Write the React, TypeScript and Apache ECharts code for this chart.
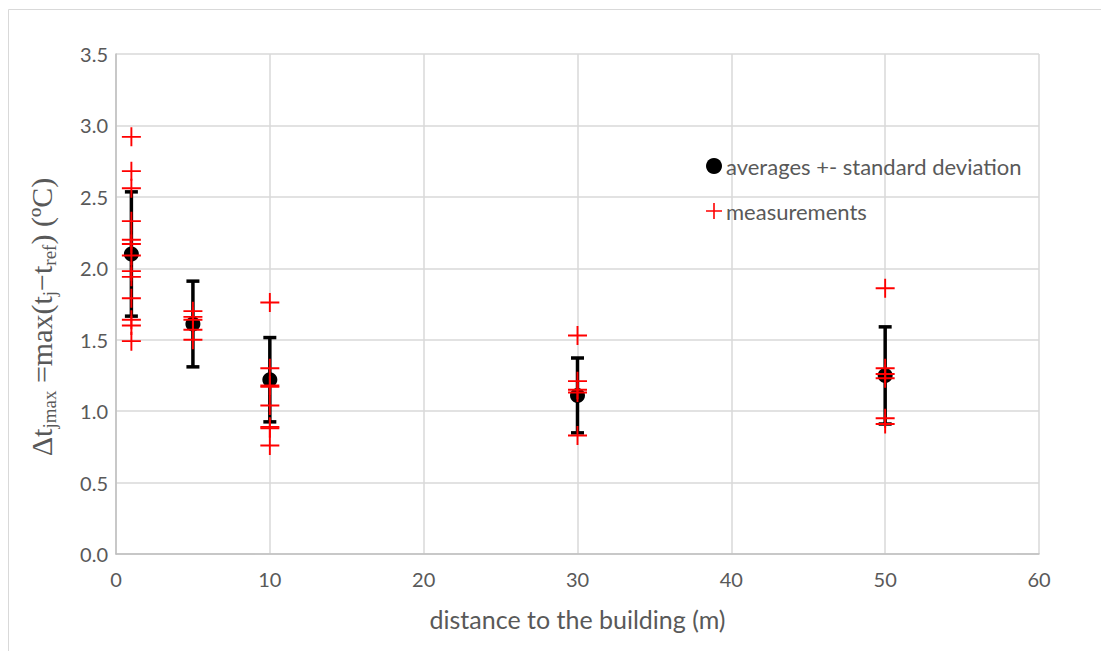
import React, { useEffect, useRef } from "react";
import * as echarts from "echarts";

// ---- data ----
const distances = [1, 5, 10, 30, 50];
const averages = [2.1, 1.61, 1.22, 1.11, 1.25];
const stdDevs = [0.435, 0.3, 0.295, 0.262, 0.34];

const meas1 = [2.92, 2.68, 2.56, 2.33, 2.2, 2.17, 2.09, 1.98, 1.94, 1.79, 1.64, 1.6, 1.49];
const meas5 = [1.7, 1.66, 1.64, 1.57, 1.5];
const meas10 = [1.76, 1.3, 1.18, 1.17, 1.04, 0.89, 0.88, 0.76];
const meas30 = [1.53, 1.21, 1.15, 1.13, 0.83];
const meas50 = [1.86, 1.3, 1.26, 1.23, 0.95, 0.91];
const measGroups = [meas1, meas5, meas10, meas30, meas50];

const yTicks = ["0.0", "0.5", "1.0", "1.5", "2.0", "2.5", "3.0", "3.5"];
const xTicks = ["0", "10", "20", "30", "40", "50", "60"];

const AVG_NAME = "averages +- standard deviation";
const MEAS_NAME = "measurements";
const PLUS = "path://M-1,-10H1V10H-1ZM-10,-1H10V1H-10Z";

export default function App() {
  const ref = useRef<HTMLDivElement>(null);
  useEffect(() => {
    document.body.style.margin = "0";
    if (!ref.current) return;
    const chart = echarts.init(ref.current, null, { renderer: "svg" });
    const font = "Lato";
    const grey = "#595959";

    const errData = distances.map((d, i) => [d, averages[i] - stdDevs[i], averages[i] + stdDevs[i]]);
    const avgData = distances.map((d, i) => [d, averages[i]]);
    const measData: number[][] = [];
    measGroups.forEach((g, i) => g.forEach((v) => measData.push([distances[i], v])));

    chart.setOption({
      animation: false,
      backgroundColor: "#fff",
      graphic: [
        {
          type: "rect",
          shape: { x: 8.5, y: 9.5, width: 1200, height: 800 },
          style: { fill: "none", stroke: "#d9d9d9", lineWidth: 1 },
          silent: true,
        },
      ],
      grid: { left: 116, right: 62, top: 54, bottom: 97, containLabel: false },
      legend: {
        orient: "vertical",
        left: 701,
        top: 150,
        itemGap: 23,
        itemWidth: 16,
        itemHeight: 16,
        textStyle: { fontFamily: font, fontSize: 22, color: grey, padding: [0, 0, 0, -1] },
        data: [
          { name: AVG_NAME, icon: "circle" },
          { name: MEAS_NAME, icon: PLUS },
        ],
      },
      xAxis: {
        type: "value",
        min: 0,
        max: 60,
        interval: 10,
        name: "distance to the building (m)",
        nameLocation: "middle",
        nameGap: 52,
        nameTextStyle: { fontFamily: font, fontSize: 25, color: grey },
        axisLine: { show: true, lineStyle: { color: "#bfbfbf", width: 1.5 } },
        axisTick: { show: false },
        axisLabel: {
          fontFamily: font,
          fontSize: 20,
          color: grey,
          margin: 15,
          formatter: (v: number) => xTicks[Math.round(v / 10)] ?? "",
        },
        splitLine: { show: true, lineStyle: { color: "#d9d9d9", width: 1.5 } },
      },
      yAxis: {
        type: "value",
        min: 0,
        max: 3.5,
        interval: 0.5,
        name: "{m|Δt}{s|jmax}{m| =max(t}{s|j}{m|−t}{s|ref}{m|) (ºC)}",
        nameLocation: "middle",
        nameRotate: 90,
        nameGap: 57,
        nameTextStyle: {
          color: grey,
          padding: [0, 26, 0, 0],
          rich: {
            m: { fontFamily: "Liberation Serif", fontSize: 30, lineHeight: 35, color: grey, verticalAlign: "middle" },
            s: { fontFamily: "Liberation Serif", fontSize: 19, lineHeight: 19, color: grey, verticalAlign: "bottom" },
          },
        },
        axisLine: { show: true, lineStyle: { color: "#bfbfbf", width: 1.5 } },
        axisTick: { show: false },
        axisLabel: {
          fontFamily: font,
          fontSize: 20,
          color: grey,
          margin: 8,
          formatter: (v: number) => yTicks[Math.round(v / 0.5)] ?? "",
        },
        splitLine: { show: true, lineStyle: { color: "#d9d9d9", width: 1.5 } },
      },
      series: [
        {
          type: "custom",
          name: "errorbars",
          data: errData,
          z: 2,
          renderItem: (params: any, api: any) => {
            const x = api.value(0);
            const top = api.coord([x, api.value(2)]);
            const bot = api.coord([x, api.value(1)]);
            const hw = 6.5;
            const st = { stroke: "#000", lineWidth: 3.5 };
            return {
              type: "group",
              children: [
                { type: "line", shape: { x1: top[0], y1: top[1], x2: bot[0], y2: bot[1] }, style: st },
                { type: "line", shape: { x1: top[0] - hw, y1: top[1], x2: top[0] + hw, y2: top[1] }, style: st },
                { type: "line", shape: { x1: bot[0] - hw, y1: bot[1], x2: bot[0] + hw, y2: bot[1] }, style: st },
              ],
            };
          },
        },
        {
          type: "scatter",
          name: AVG_NAME,
          data: avgData,
          symbol: "circle",
          symbolSize: 15,
          itemStyle: { color: "#000", opacity: 1 },
          z: 3,
        },
        {
          type: "scatter",
          name: MEAS_NAME,
          data: measData,
          symbol: PLUS,
          symbolSize: 19,
          itemStyle: { color: "#ff0000", opacity: 1 },
          z: 4,
        },
      ],
    });
    return () => chart.dispose();
  }, []);
  return <div ref={ref} style={{ width: 1101, height: 651 }} />;
}
